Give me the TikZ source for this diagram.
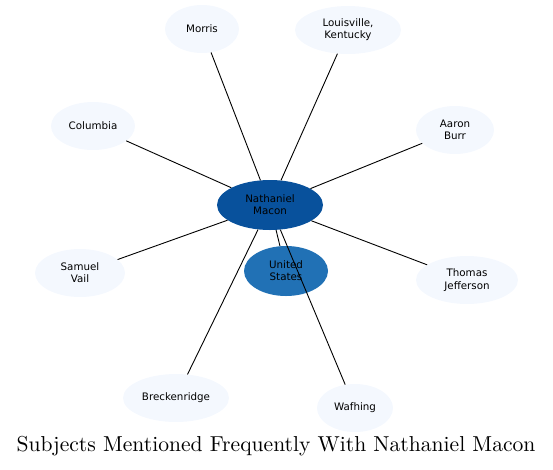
\documentclass[tikz,border=0pt]{standalone}
\usepackage{fontspec}
\newfontfamily\labelfont{DejaVu Sans}
\newfontfamily\titlefont[Extension=.otf]{lmroman10-regular}
\usetikzlibrary{shapes.geometric}
\definecolor{subjlight}{HTML}{F4F8FE}
\definecolor{subjdark}{HTML}{08519C}
\definecolor{subjmid}{HTML}{2171B5}

\begin{document}
\begin{tikzpicture}[
    x=1pt, y=-1pt,
    every node/.style={font=\labelfont\fontsize{10.3}{12.3}\selectfont},
    subject/.style={ellipse, draw=none, fill=subjlight, inner sep=0pt, align=center, minimum height=48pt},
    hub/.style={ellipse, draw=none, fill=subjdark, inner sep=0pt, align=center, minimum height=50pt},
    link/.style={line width=0.9pt, black}
]
\useasboundingbox (0,0) rectangle (553,469);

% Nodes
\node[hub, minimum width=106pt] (macon) at (270,205) {Nathaniel\\Macon};
\node[hub, fill=subjmid, minimum width=84pt] (states) at (286,271) {United\\States};
\node[subject, minimum width=74pt] (morris) at (202,29) {Morris};
\node[subject, minimum width=106pt] (louisville) at (348,30) {Louisville,\\Kentucky};
\node[subject, minimum width=84pt] (columbia) at (93,126) {Columbia};
\node[subject, minimum width=78pt] (burr) at (455,130) {Aaron\\Burr};
\node[subject, minimum width=90pt] (vail) at (80,273) {Samuel\\Vail};
\node[subject, minimum width=102pt] (jefferson) at (467,280) {Thomas\\Jefferson};
\node[subject, minimum width=106pt] (breckenridge) at (176,398) {Breckenridge};
\node[subject, minimum width=76pt] (wafhing) at (355,408) {Wafhing};

% Links
\draw[link] (macon) -- (morris);
\draw[link] (macon) -- (louisville);
\draw[link] (macon) -- (columbia);
\draw[link] (macon) -- (burr);
\draw[link] (macon) -- (vail);
\draw[link] (macon) -- (jefferson);
\draw[link] (macon) -- (breckenridge);
\draw[link] (macon) -- (states);
\draw[link] (macon) -- (wafhing);

% Title
\node[font=\titlefont\fontsize{21.6}{26}\selectfont, anchor=base] (title) at (276,451) {Subjects Mentioned Frequently With Nathaniel Macon};

\end{tikzpicture}
\end{document}
